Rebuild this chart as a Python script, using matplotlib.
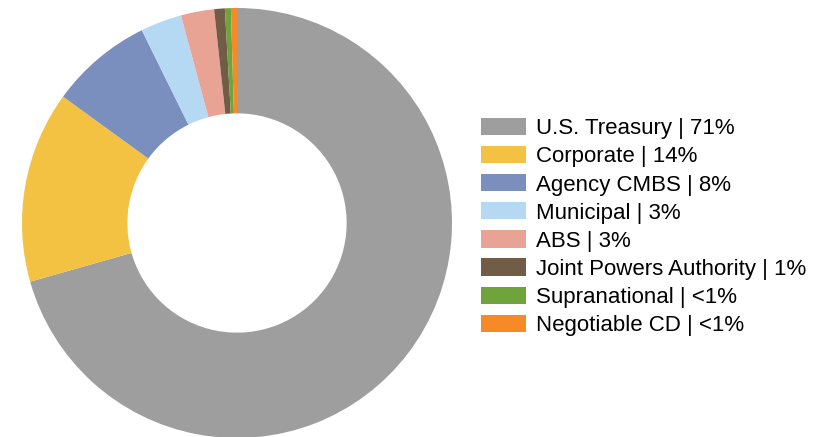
import matplotlib.pyplot as plt
from matplotlib.patches import Patch

plt.rcParams['font.family'] = ['Liberation Sans', 'DejaVu Sans']

sectors = [
    "U.S. Treasury",
    "Corporate",
    "Agency CMBS",
    "Municipal",
    "ABS",
    "Joint Powers Authority",
    "Supranational",
    "Negotiable CD",
]
shares = [70.6, 14.4, 7.7, 3.1, 2.5, 0.8, 0.45, 0.45]
share_labels = ["71%", "14%", "8%", "3%", "3%", "1%", "<1%", "<1%"]
colors = ["#9e9e9e", "#f3c242", "#7a8fbe", "#b5d9f2",
          "#e8a395", "#715d45", "#6fa33b", "#f58a27"]

fig = plt.figure(figsize=(8.29, 4.37), dpi=100)
ax = fig.add_axes([22 / 829, -1 / 437, 430 / 829, 430 / 437])

ax.pie(shares, colors=colors, startangle=90, counterclock=False,
       radius=1.0, wedgeprops=dict(width=0.49, linewidth=0))
ax.set_xlim(-1, 1)
ax.set_ylim(-1, 1)
ax.set_aspect("equal")

handles = [Patch(facecolor=c, edgecolor="none") for c in colors]
labels = [f"{s} | {p}" for s, p in zip(sectors, share_labels)]
fig.legend(handles, labels, loc="center left",
           bbox_to_anchor=(481 / 829, 210 / 437),
           frameon=False, fontsize=16, borderpad=0, borderaxespad=0,
           handlelength=2.03, handleheight=0.81, handletextpad=0.45,
           labelspacing=0.305)

fig.savefig("out.png", dpi=100)
